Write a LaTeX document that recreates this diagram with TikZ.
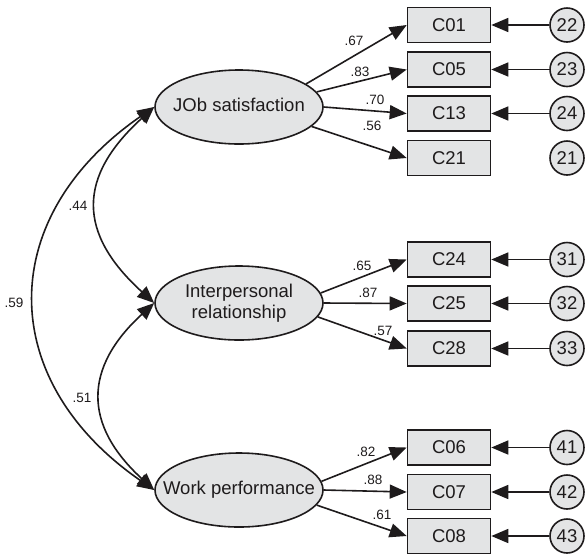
\documentclass[tikz,border=0pt]{standalone}
\usepackage{fontspec}
\setmainfont{Liberation Sans}
\usetikzlibrary{arrows.meta,shapes.geometric}
\definecolor{boxfill}{RGB}{227,228,229}
\definecolor{ink}{RGB}{30,27,28}
\begin{document}
\begin{tikzpicture}[x=1pt,y=1pt,
  latent/.style={ellipse, draw=ink, line width=1.6pt, fill=boxfill, minimum width=168pt, minimum height=74pt, inner sep=0pt},
  lattext/.style={font=\fontsize{18.5}{20.5}\selectfont, text=ink, align=center, inner sep=0pt},
  obs/.style={rectangle, draw=ink, line width=1.6pt, fill=boxfill, minimum width=83pt, minimum height=35pt, inner sep=0pt, font=\fontsize{18.5}{20}\selectfont, text=ink},
  err/.style={circle, draw=ink, line width=1.6pt, fill=boxfill, minimum size=34pt, inner sep=0pt, font=\fontsize{18.5}{20}\selectfont, text=ink},
  load/.style={draw=ink, line width=1.6pt, -{Triangle[length=17pt,width=14pt]}},
  cov/.style={draw=ink, line width=1.6pt, {Triangle[length=17pt,width=14pt]}-{Triangle[length=17pt,width=14pt]}},
  coef/.style={font=\fontsize{13.5}{15}\selectfont, text=ink, inner sep=0pt}
]
\useasboundingbox (0,0) rectangle (585,-558);

% latent variables
\node[latent] (jb) at (239,-107) {};
\node[lattext] (jbt) at (239,-105) {JOb satisfaction};
\node[latent] (ip) at (239,-303) {};
\node[lattext] (ipt) at (239,-303) {Interpersonal\\relationship};
\node[latent] (wp) at (239,-490) {};
\node[lattext] (wpt) at (239,-490) {Work performance};

% observed variables
\foreach \n/\y in {C01/25,C05/69.5,C13/113.5,C21/158,C24/259.5,C25/303.5,C28/348.5,C06/447.5,C07/492,C08/536}
  \node[obs] (\n) at (449,-\y) {\n};

% error terms
\foreach \n/\y in {22/25,23/69.5,24/113.5,21/158,31/259.5,32/303.5,33/348.5,41/447.5,42/492,43/536}
  \node[err] (e\n) at (567,-\y) {\n};

% error arrows
\foreach \e/\c in {22/C01,23/C05,24/C13,31/C24,32/C25,33/C28,41/C06,42/C07,43/C08}
  \draw[load] (e\e) -- (\c);

% loadings
\draw[load] (jb.19) -- (C01.west);
\draw[load] (jb.11) -- (C05.west);
\draw[load] (jb.0) -- (C13.west);
\draw[load] (jb.-15) -- (C21.west);
\draw[load] (ip.7) -- (C24.west);
\draw[load] (ip.0) -- (C25.west);
\draw[load] (ip.-10) -- (C28.west);
\draw[load] (wp.6) -- (C06.west);
\draw[load] (wp.0) -- (C07.west);
\draw[load] (wp.-11) -- (C08.west);

% covariances
\draw[cov] (jb.west) .. controls +(-77,-70) and +(-77,70) .. (ip.west);
\draw[cov] (ip.west) .. controls +(-71,-65) and +(-71,65) .. (wp.west);
\draw[cov] (jb.west) .. controls +(-159,-110) and +(-159,110) .. (wp.west);

% coefficients
\node[coef] (l67) at (354,-41) {.67};
\node[coef] (l83) at (360,-72) {.83};
\node[coef] (l70) at (375,-100) {.70};
\node[coef] (l56) at (372,-126) {.56};
\node[coef] (l65) at (362,-266) {.65};
\node[coef] (l87) at (368,-293) {.87};
\node[coef] (l57) at (383,-331) {.57};
\node[coef] (l82) at (366,-452) {.82};
\node[coef] (l88) at (373,-480) {.88};
\node[coef] (l61) at (382,-515) {.61};
\node[coef] (l44) at (78,-206) {.44};
\node[coef] (l59) at (14,-303) {.59};
\node[coef] (l51) at (82,-398) {.51};
\end{tikzpicture}
\end{document}
